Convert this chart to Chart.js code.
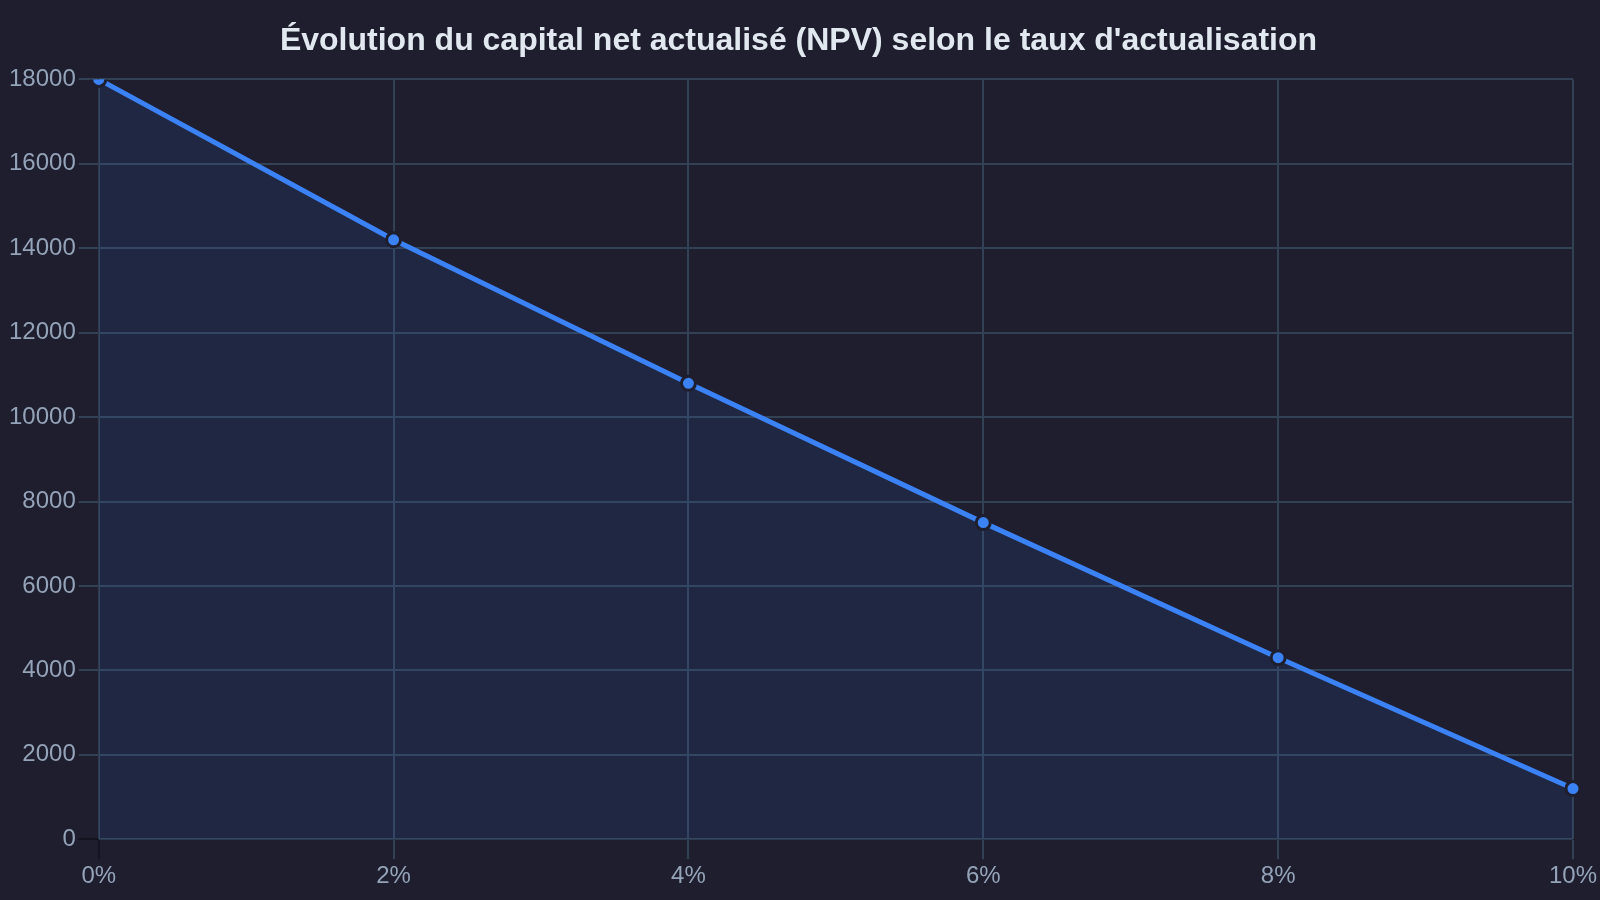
<!DOCTYPE html>
<html lang="fr">
<head>
<meta charset="utf-8">
<title>NPV selon le taux d'actualisation</title>
<script src="https://cdn.jsdelivr.net/npm/chart.js@4.4.1/dist/chart.umd.min.js"></script>
<style>
  html, body { margin: 0; padding: 0; background: #1e1e2e; }
  #wrap { width: 1600px; height: 900px; position: relative; }
</style>
</head>
<body>
<div id="wrap"><canvas id="npvChart"></canvas></div>
<script>
// taux d'actualisation (axe x) et NPV
const taux = ['0%', '2%', '4%', '6%', '8%', '10%'];
const npv = [18000, 14200, 10800, 7500, 4300, 1200];
const graduationsY = [0, 2000, 4000, 6000, 8000, 10000, 12000, 14000, 16000, 18000];
const titre = "Évolution du capital net actualisé (NPV) selon le taux d'actualisation";

const couleurLigne = '#3b82f6';
const couleurGrille = '#334155';
const couleurTexte = '#94a3b8';
const couleurFond = '#1e1e2e';

Chart.defaults.font.family = '"Liberation Sans", Arial, sans-serif';

// le premier trait de graduation est plus sombre sur l'original
function traits(n) {
    const t = [];
    for (let i = 0; i < n; i++) t.push(i === 0 ? '#141420' : couleurGrille);
    return t;
}

const ctx = document.getElementById('npvChart').getContext('2d');
const chartNpv = new Chart(ctx, {
    type: 'line',
    data: {
        labels: taux,
        datasets: [{
            label: 'NPV',
            data: npv,
            borderColor: couleurLigne,
            backgroundColor: 'rgba(59, 130, 246, 0.1)',
            borderWidth: 5,
            fill: true,
            tension: 0,
            pointRadius: 7,
            pointBorderWidth: 3,
            pointBackgroundColor: couleurLigne,
            pointBorderColor: couleurFond
        }]
    },
    options: {
        responsive: true,
        maintainAspectRatio: false,
        animation: false,
        layout: { padding: { left: 6, right: 9, top: 10, bottom: 6 } },
        plugins: {
            legend: { display: false },
            tooltip: { enabled: false },
            title: {
                display: true,
                text: titre,
                color: '#e2e8f0',
                font: { size: 32, weight: 'bold' },
                padding: { top: 12, bottom: 19 }
            }
        },
        scales: {
            x: {
                grid: { color: couleurGrille, lineWidth: 2, tickLength: 20, tickWidth: 2, tickColor: traits(taux.length) },
                ticks: { color: couleurTexte, font: { size: 24 }, padding: 3 }
            },
            y: {
                min: graduationsY[0],
                max: graduationsY[graduationsY.length - 1],
                grid: { color: couleurGrille, lineWidth: 2, tickLength: 20, tickWidth: 2, tickColor: traits(graduationsY.length) },
                ticks: {
                    color: couleurTexte,
                    font: { size: 24 },
                    padding: 3,
                    stepSize: graduationsY[1] - graduationsY[0],
                    callback: function(v) { return String(v); }
                }
            }
        }
    }
});
</script>
</body>
</html>
